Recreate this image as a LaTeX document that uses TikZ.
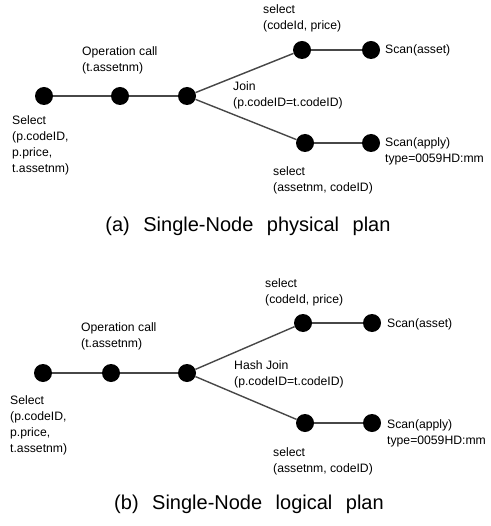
\documentclass[tikz,border=0pt]{standalone}
\usepackage{fontspec}
\setmainfont{Liberation Sans}
\newcommand{\stacklines}[1]{\begin{tabular}[t]{@{}l@{}}#1\end{tabular}}
\newcommand{\widewords}[1]{{\spaceskip=13.5pt\relax #1}}
\tikzset{
  dot/.style={circle, fill=black, draw=none, minimum size=18pt, inner sep=0pt},
  link/.style={draw=black!72, line width=1.4pt},
  lbl/.style={anchor=base west, inner sep=0pt, font=\fontsize{12.2}{16}\selectfont},
  caption/.style={anchor=base, inner sep=0pt, font=\fontsize{20}{24}\selectfont},
}
\begin{document}
\begin{tikzpicture}[x=1pt, y=-1pt]
\useasboundingbox (0,0) rectangle (490,526);

% ---------- (a) physical plan ----------
\node[dot] (a1) at (44,96) {};
\node[dot] (a2) at (120,96) {};
\node[dot] (a3) at (187,96) {};
\node[dot] (a4) at (302,50) {};
\node[dot] (a5) at (371,50) {};
\node[dot] (a6) at (305,143) {};
\node[dot] (a7) at (371,143) {};
\draw[link] (a1) -- (a2);
\draw[link] (a2) -- (a3);
\draw[link] (a3) -- (a4);
\draw[link] (a3) -- (a6);
\draw[link] (a4) -- (a5);
\draw[link] (a6) -- (a7);

\node[lbl] (aSel) at (12,125) {\stacklines{Select\\(p.codeID,\\p.price,\\t.assetnm)}};
\node[lbl] (aOp) at (82,56) {\stacklines{Operation call\\(t.assetnm)}};
\node[lbl] (aJoin) at (233,91) {\stacklines{Join\\(p.codeID=t.codeID)}};
\node[lbl] (aSelU) at (263,14) {\stacklines{select\\(codeId, price)}};
\node[lbl] (aScanU) at (385,54) {Scan(asset)};
\node[lbl] (aScanL) at (385,147) {\stacklines{Scan(apply)\\type=0059HD:mm}};
\node[lbl] (aSelL) at (273,176) {\stacklines{select\\(assetnm, codeID)}};
\node[caption] (capA) at (248,231) {\widewords{(a) Single-Node physical plan}};

% ---------- (b) logical plan ----------
\node[dot] (b1) at (43,373) {};
\node[dot] (b2) at (111,373) {};
\node[dot] (b3) at (187,373) {};
\node[dot] (b4) at (303,323) {};
\node[dot] (b5) at (372,323) {};
\node[dot] (b6) at (305,423) {};
\node[dot] (b7) at (372,423) {};
\draw[link] (b1) -- (b2);
\draw[link] (b2) -- (b3);
\draw[link] (b3) -- (b4);
\draw[link] (b3) -- (b6);
\draw[link] (b4) -- (b5);
\draw[link] (b6) -- (b7);

\node[lbl] (bSel) at (10,404) {\stacklines{Select\\(p.codeID,\\p.price,\\t.assetnm)}};
\node[lbl] (bOp) at (81,331) {\stacklines{Operation call\\(t.assetnm)}};
\node[lbl] (bJoin) at (234,369) {\stacklines{Hash Join\\(p.codeID=t.codeID)}};
\node[lbl] (bSelU) at (265,287) {\stacklines{select\\(codeId, price)}};
\node[lbl] (bScanU) at (387,327) {Scan(asset)};
\node[lbl] (bScanL) at (387,428) {\stacklines{Scan(apply)\\type=0059HD:mm}};
\node[lbl] (bSelL) at (273,456) {\stacklines{select\\(assetnm, codeID)}};
\node[caption] (capB) at (249,509) {\widewords{(b) Single-Node logical plan}};
\end{tikzpicture}
\end{document}
